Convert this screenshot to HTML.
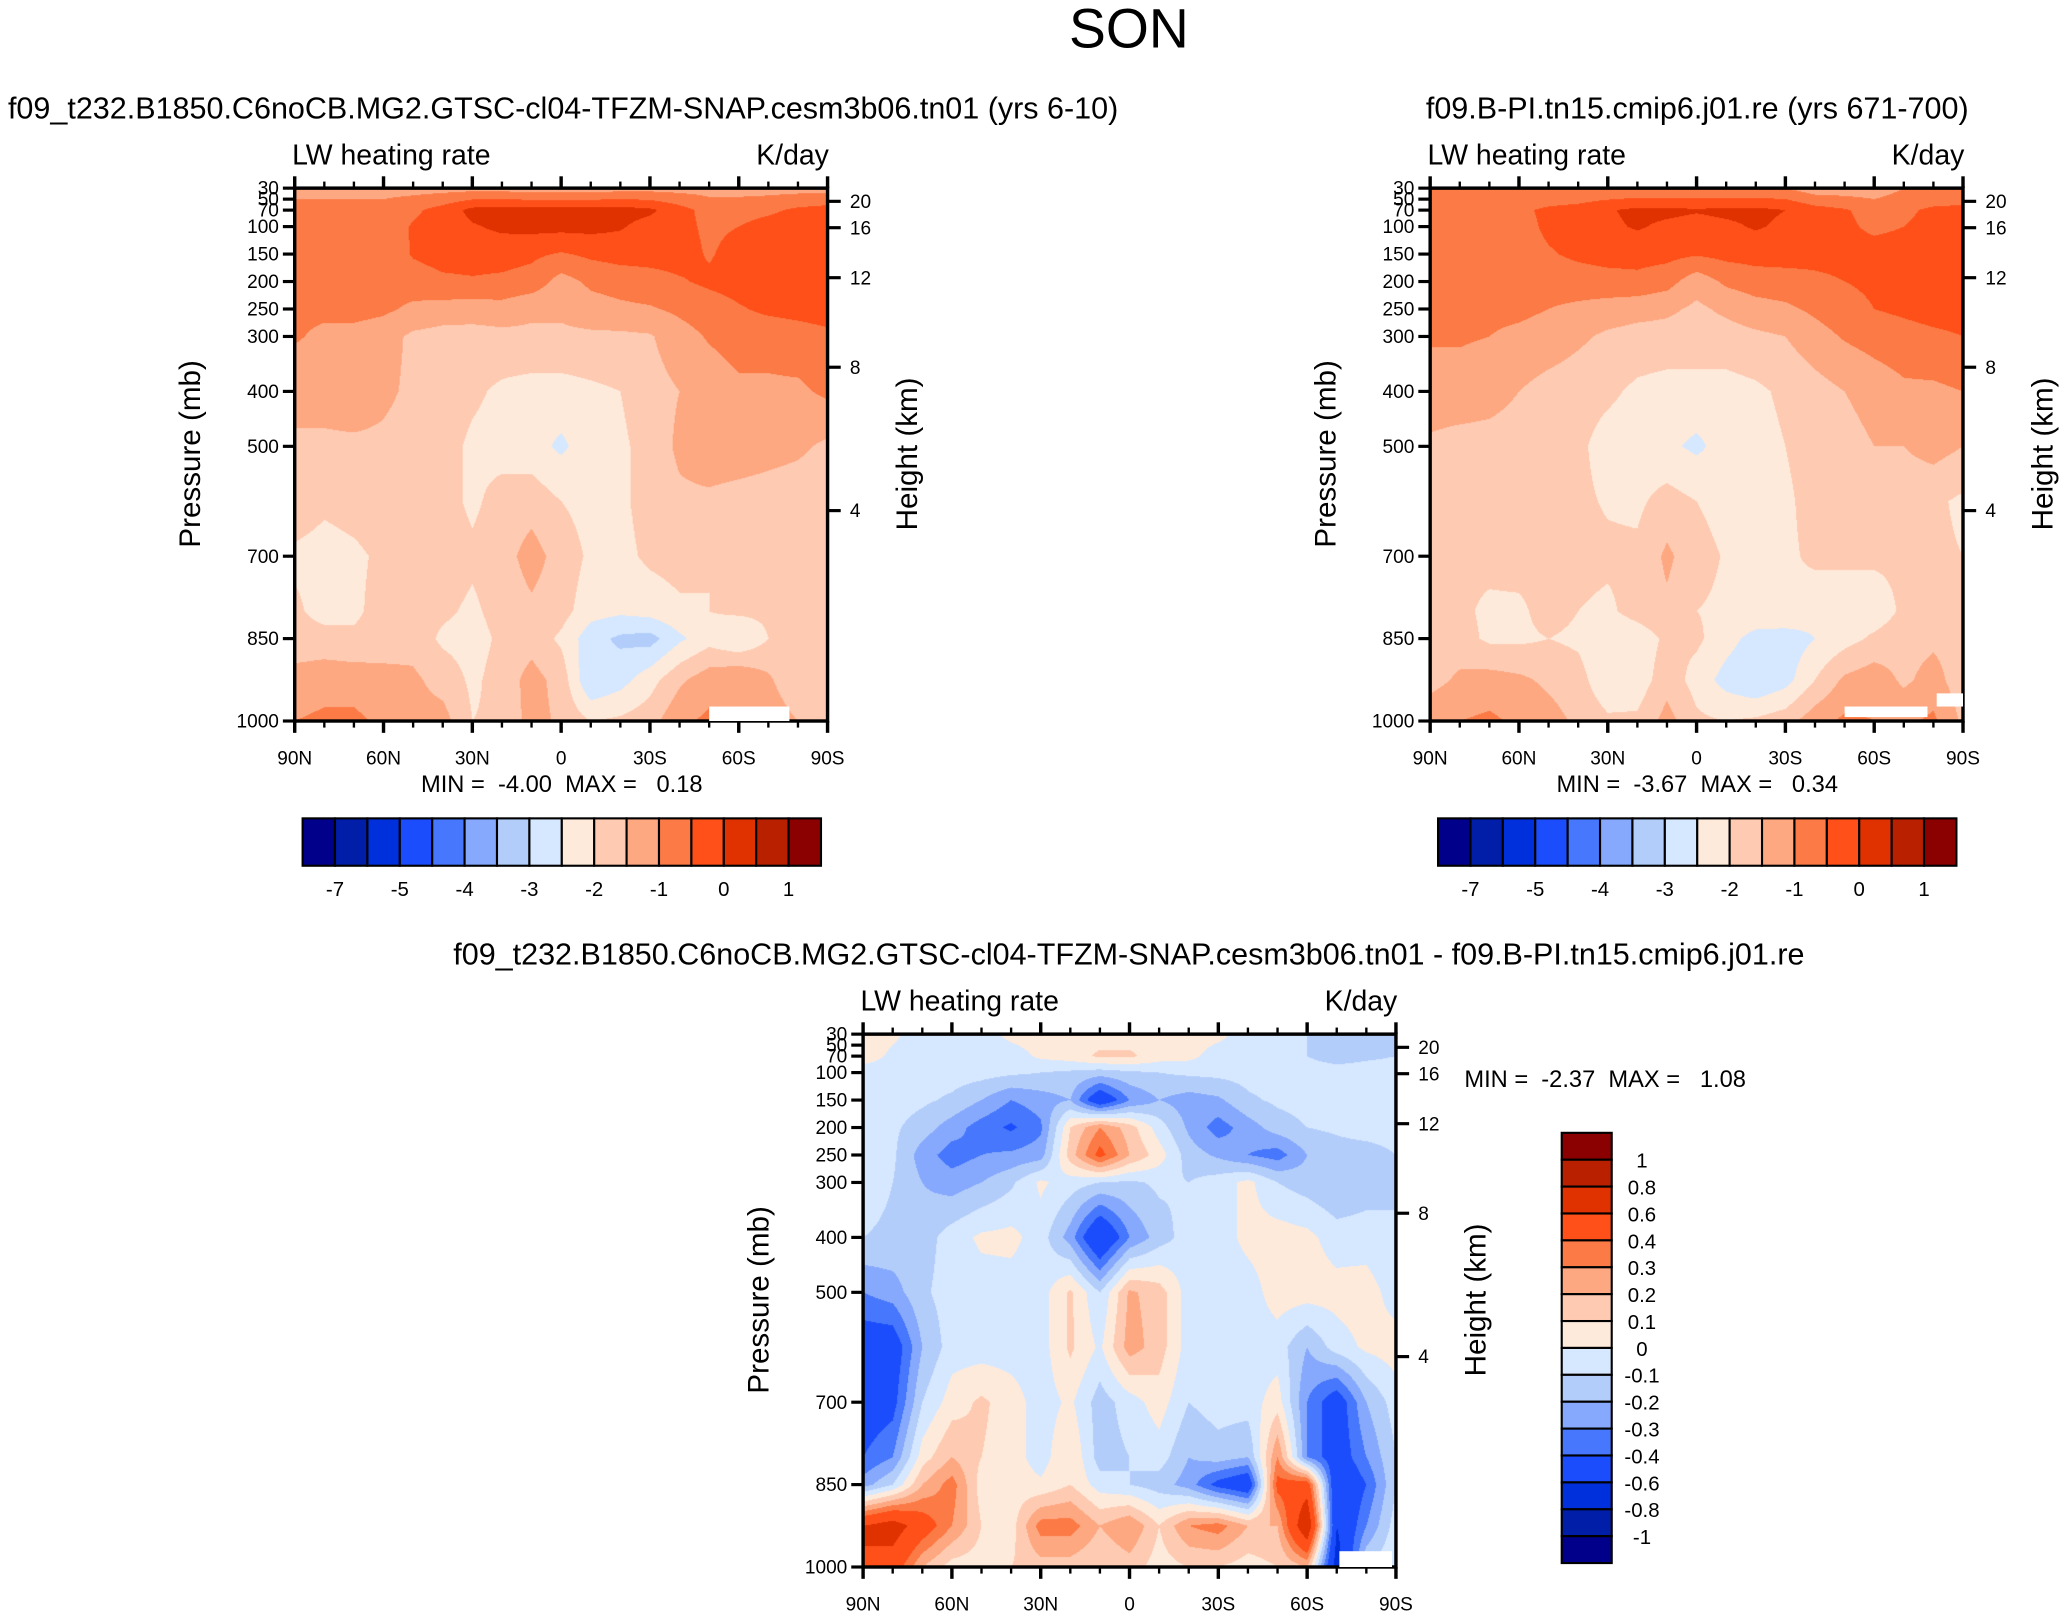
<!DOCTYPE html>
<html><head><meta charset="utf-8">
<style>
html,body{margin:0;padding:0;background:#fff;}
#wrap{position:absolute;left:0;top:0;width:1568px;height:1229px;transform:scale(1.315689,1.315703);transform-origin:0 0;overflow:hidden;}
canvas{position:absolute;}
svg{position:absolute;left:0;top:0;}
text{font-family:"Liberation Sans",Arial,sans-serif;fill:#000;white-space:pre;}
</style></head>
<body>
<div id="wrap">
<canvas id="c1" width="533" height="533" style="left:224px;top:143px;width:405px;height:405px"></canvas>
<canvas id="c2" width="533" height="533" style="left:1087px;top:143px;width:405px;height:405px"></canvas>
<canvas id="c3" width="533" height="533" style="left:656px;top:786px;width:405px;height:405px"></canvas>
<svg id="ov" width="1568" height="1229" viewBox="0 0 1568 1229"></svg>
</div>
<script>
// ---- data ----
const LATS=[90,80,70,60,50,40,30,20,10,0,-10,-20,-30,-40,-50,-60,-70,-80,-90];
const PRES=[30,70,100,150,200,250,300,400,500,600,700,800,850,925,1000];
const P_TICKS=[30,50,70,100,150,200,250,300,400,500,700,850,1000];
const LAT_TICKS=[90,60,30,0,-30,-60,-90];
const LAT_LABELS=["90N","60N","30N","0","30S","60S","90S"];
const HGT_LABELS=["20","16","12","8","4"];
const HGT_PRES=[54,102,193,356,617];
const LEV_ABS=[-7,-6,-5,-4.5,-4,-3.5,-3,-2.5,-2,-1.5,-1,-0.5,0,0.5,1];
const LEV_DIFF=[-1,-0.8,-0.6,-0.4,-0.3,-0.2,-0.1,0,0.1,0.2,0.3,0.4,0.6,0.8,1];
const CB_ABS_LABELS=["-7","-5","-4","-3","-2","-1","0","1"];
const CB_DIFF_LABELS=["1","0.8","0.6","0.4","0.3","0.2","0.1","0","-0.1","-0.2","-0.3","-0.4","-0.6","-0.8","-1"];
const COLORS=["#00008a","#001ea8","#0030dc","#1c4dfc","#4677fc","#86a9fd","#b3cdfb","#d6e8ff","#feeadb","#fecbb2","#fea882","#fc7a45","#ff5019","#e03200","#b82000","#8b0000"];
const DATA_A=[
[-1.2,-1.2,-1.2,-1.2,-1.2,-1.2,-1.2,-1.2,-1.3,-1.3,-1.3,-1.2,-1.2,-1.2,-1.2,-1.2,-1.2,-1.2,-1.2],
[-0.8,-0.8,-0.8,-0.8,-0.6,-0.3,0.15,0.2,0.2,0.2,0.2,0.2,0.1,-0.3,-0.7,-0.7,-0.6,-0.4,-0.3],
[-0.8,-0.8,-0.8,-0.8,-0.45,-0.3,-0.05,0.1,0.15,0.15,0.15,0.05,-0.2,-0.35,-0.6,-0.5,-0.3,-0.25,-0.2],
[-0.85,-0.85,-0.85,-0.85,-0.45,-0.3,-0.3,-0.3,-0.4,-0.55,-0.4,-0.3,-0.3,-0.3,-0.55,-0.3,-0.2,-0.2,-0.2],
[-0.9,-0.9,-0.9,-0.85,-0.75,-0.6,-0.55,-0.6,-0.7,-1.2,-0.9,-0.8,-0.7,-0.55,-0.4,-0.3,-0.25,-0.25,-0.25],
[-0.9,-0.9,-0.8,-0.9,-1.1,-1.2,-1.25,-1.2,-1.4,-1.4,-1.2,-1.1,-1.05,-0.9,-0.75,-0.55,-0.4,-0.35,-0.3],
[-0.95,-1.1,-1.2,-1.3,-1.6,-1.7,-1.7,-1.65,-1.6,-1.6,-1.6,-1.6,-1.55,-1.2,-0.95,-0.8,-0.8,-0.7,-0.6],
[-1.3,-1.3,-1.2,-1.4,-1.6,-1.7,-1.9,-2.1,-2.2,-2.2,-2.1,-2.0,-1.7,-1.5,-1.3,-1.1,-1.1,-1.1,-0.9],
[-1.6,-1.6,-1.6,-1.6,-1.7,-1.8,-2.1,-2.2,-2.3,-2.6,-2.2,-2.1,-1.8,-1.4,-1.2,-1.2,-1.3,-1.4,-1.6],
[-1.7,-1.9,-1.8,-1.7,-1.7,-1.8,-2.1,-1.8,-1.7,-2.0,-2.2,-2.1,-1.8,-1.6,-1.6,-1.7,-1.75,-1.8,-1.9],
[-2.1,-2.2,-2.1,-1.9,-1.8,-1.7,-1.9,-1.7,-1.3,-1.7,-2.1,-2.15,-1.9,-1.8,-2.0,-1.95,-1.8,-1.9,-2.0],
[-1.9,-2.2,-2.1,-1.8,-1.7,-1.9,-2.1,-1.8,-1.6,-1.8,-2.3,-2.4,-2.3,-2.1,-2.0,-1.9,-1.9,-1.8,-1.9],
[-1.8,-1.8,-1.9,-1.8,-1.7,-2.1,-2.2,-1.9,-1.7,-2.1,-2.8,-3.1,-3.2,-2.6,-2.2,-2.5,-2.0,-1.8,-1.8],
[-1.3,-1.2,-1.2,-1.3,-1.4,-1.7,-2.1,-1.8,-1.3,-1.7,-3.0,-2.7,-2.2,-1.6,-1.2,-1.0,-1.4,-2.0,-1.8],
[-1.0,-0.9,-0.9,-1.1,-1.3,-1.3,-2.0,-1.9,-1.3,-1.6,-2.0,-1.9,-1.7,-1.1,-0.9,-1.0,-1.1,-1.5,-1.6]];
const DATA_B=[
[-0.8,-0.9,-1.0,-1.0,-1.0,-1.0,-1.0,-1.0,-1.0,-1.0,-1.0,-1.0,-1.0,-1.3,-1.3,-1.3,-1.0,-1.0,-1.0],
[-0.8,-0.8,-0.8,-0.6,-0.4,-0.3,-0.05,0.12,0.12,0.05,0.12,0.12,0.0,-0.3,-0.45,-0.7,-0.6,-0.4,-0.35],
[-0.85,-0.85,-0.8,-0.7,-0.4,-0.3,-0.1,0.05,-0.1,-0.2,-0.1,0.05,-0.1,-0.3,-0.4,-0.6,-0.5,-0.35,-0.3],
[-0.9,-0.9,-0.85,-0.75,-0.55,-0.4,-0.3,-0.3,-0.35,-0.45,-0.35,-0.3,-0.3,-0.35,-0.35,-0.3,-0.3,-0.3,-0.3],
[-0.95,-0.95,-0.9,-0.85,-0.8,-0.75,-0.7,-0.65,-0.8,-1.3,-0.9,-0.75,-0.7,-0.6,-0.5,-0.4,-0.35,-0.3,-0.3],
[-0.95,-0.95,-0.9,-0.9,-1.0,-1.1,-1.2,-1.3,-1.4,-1.6,-1.4,-1.2,-1.1,-0.9,-0.7,-0.5,-0.4,-0.3,-0.3],
[-0.95,-0.95,-1.0,-1.1,-1.2,-1.4,-1.6,-1.7,-1.7,-1.7,-1.7,-1.6,-1.5,-1.2,-0.95,-0.8,-0.7,-0.6,-0.5],
[-1.2,-1.2,-1.3,-1.5,-1.7,-1.8,-1.9,-2.1,-2.2,-2.2,-2.2,-2.1,-1.9,-1.7,-1.5,-1.3,-1.1,-1.1,-1.0],
[-1.6,-1.7,-1.7,-1.75,-1.8,-1.9,-2.2,-2.3,-2.4,-2.6,-2.3,-2.2,-2.0,-1.75,-1.7,-1.5,-1.5,-1.3,-1.5],
[-1.9,-1.9,-1.8,-1.75,-1.8,-1.9,-2.05,-2.1,-1.8,-2.0,-2.2,-2.2,-2.1,-1.8,-1.75,-1.75,-1.8,-1.9,-2.1],
[-1.9,-1.9,-1.85,-1.8,-1.85,-1.85,-1.9,-1.9,-1.4,-1.8,-2.05,-2.05,-2.1,-1.9,-1.9,-1.9,-1.9,-1.9,-2.0],
[-1.9,-1.9,-2.1,-2.1,-1.8,-2.0,-2.1,-1.8,-1.6,-2.0,-2.1,-2.1,-2.0,-2.3,-2.3,-2.3,-1.9,-1.8,-1.8],
[-1.85,-1.8,-2.1,-2.1,-2.0,-2.1,-2.4,-2.3,-1.9,-1.9,-2.3,-2.7,-2.8,-2.5,-2.2,-1.9,-1.7,-1.6,-1.7],
[-1.7,-1.4,-1.3,-1.4,-1.6,-1.8,-2.4,-2.3,-1.7,-2.2,-2.7,-3.0,-2.7,-2.0,-1.4,-1.2,-1.6,-1.3,-1.8],
[-1.1,-1.0,-0.9,-1.1,-1.3,-1.6,-1.9,-1.9,-1.3,-1.9,-2.0,-1.9,-1.7,-1.2,-0.9,-1.0,-1.1,-0.9,-1.6]];
const DATA_D=[
[0.05,0.02,-0.05,-0.05,-0.05,0.03,0.05,0.05,0.05,0.05,0.05,0.05,0.03,-0.05,-0.05,-0.1,-0.15,-0.15,-0.15],
[0.05,-0.02,-0.05,-0.05,-0.05,-0.05,0.02,0.05,0.12,0.12,0.05,0.03,-0.05,-0.05,-0.08,-0.1,-0.15,-0.12,-0.1],
[-0.05,-0.05,-0.05,-0.05,-0.06,-0.08,-0.1,-0.12,-0.15,-0.12,-0.1,-0.08,-0.07,-0.06,-0.05,-0.05,-0.05,-0.05,-0.05],
[-0.05,-0.05,-0.08,-0.12,-0.2,-0.3,-0.25,-0.2,-0.55,-0.3,-0.2,-0.25,-0.22,-0.12,-0.08,-0.06,-0.05,-0.05,-0.05],
[-0.05,-0.08,-0.15,-0.25,-0.35,-0.42,-0.32,0.1,0.3,0.15,-0.05,-0.22,-0.35,-0.25,-0.15,-0.1,-0.08,-0.05,-0.05],
[-0.05,-0.08,-0.25,-0.35,-0.3,-0.28,-0.25,0.15,0.45,0.2,0.05,-0.15,-0.22,-0.3,-0.35,-0.2,-0.15,-0.15,-0.1],
[-0.05,-0.1,-0.2,-0.25,-0.2,-0.12,0.02,-0.05,-0.1,-0.12,-0.08,-0.1,-0.05,0.03,-0.1,-0.15,-0.2,-0.15,-0.1],
[-0.1,-0.12,-0.15,-0.05,0.02,0.03,-0.05,-0.25,-0.6,-0.3,-0.15,-0.05,-0.05,0.03,0.05,0.03,-0.05,-0.05,-0.1],
[-0.3,-0.25,-0.12,-0.05,-0.05,-0.05,-0.05,0.12,-0.1,0.22,0.15,-0.05,-0.05,-0.05,0.05,0.05,0.04,0.05,-0.05],
[-0.5,-0.5,-0.2,-0.05,-0.05,-0.05,-0.05,0.12,-0.02,0.25,0.15,-0.05,-0.05,-0.05,-0.05,-0.2,-0.05,0.02,0.05],
[-0.5,-0.45,-0.1,0.05,0.12,0.05,-0.05,0.02,-0.15,-0.05,0.05,-0.1,-0.05,-0.05,0.05,-0.3,-0.5,-0.2,-0.05],
[-0.4,-0.3,0.05,0.2,0.1,0.05,-0.05,0.1,-0.15,-0.1,-0.05,-0.2,-0.15,-0.2,0.3,-0.3,-0.5,-0.3,-0.1],
[-0.25,-0.1,0.2,0.35,0.05,0.05,0.02,0.1,-0.05,-0.1,-0.15,-0.25,-0.45,-0.55,0.45,0.5,-0.6,-0.4,-0.1],
[0.6,0.7,0.5,0.3,0.1,0.05,0.35,0.35,0.2,0.3,0.1,0.3,0.35,0.2,0.2,0.8,-0.6,-0.3,-0.05],
[0.6,0.5,0.2,0.05,0.05,0.1,0.15,0.15,0.1,0.15,0.05,0.1,0.1,0.05,0.1,0.2,-0.7,-0.1,0]];

// ---- rendering ----
const NS="http://www.w3.org/2000/svg";
const ov=document.getElementById('ov');
function mk(tag,attrs,parent){const e=document.createElementNS(NS,tag);for(const k in attrs)e.setAttribute(k,attrs[k]);(parent||ov).appendChild(e);return e;}
function txt(x,y,s,size,anchor,name,extra){const t=mk('text',Object.assign({x:x,y:y,'font-size':size,'text-anchor':anchor||'start'},extra||{}));t.textContent=s;


return t;}
const PW=405,PH=405;
function yOfP(top,p){return top+(p-30)/970*PH;}
function xOfLat(left,lat){return left+(90-lat)/180*PW;}
function binIdx(v,lev){let i=0;while(i<lev.length&&v>=lev[i])i++;return i;}
function sample(data,lat,p){
  let fi=(90-lat)/10;let i0=Math.min(17,Math.max(0,Math.floor(fi)));let tx=fi-i0;
  let j0=0;while(j0<PRES.length-2&&p>PRES[j0+1])j0++;
  let ty=(p-PRES[j0])/(PRES[j0+1]-PRES[j0]);
  const a=data[j0][i0],b=data[j0][i0+1],c=data[j0+1][i0],d=data[j0+1][i0+1];
  return (a*(1-tx)+b*tx)*(1-ty)+(c*(1-tx)+d*tx)*ty;
}
function hexRgb(h){return [parseInt(h.substr(1,2),16),parseInt(h.substr(3,2),16),parseInt(h.substr(5,2),16)];}
const RGB=COLORS.map(hexRgb);
function drawField(id,data,lev){
  const cv=document.getElementById(id),ctx=cv.getContext('2d');
  const W=cv.width,H=cv.height,img=ctx.createImageData(W,H);
  for(let y=0;y<H;y++){const p=30+(y+0.5)/H*970;
    for(let x=0;x<W;x++){const lat=90-(x+0.5)/W*180;
      const c=RGB[binIdx(sample(data,lat,p),lev)];const k=(y*W+x)*4;
      img.data[k]=c[0];img.data[k+1]=c[1];img.data[k+2]=c[2];img.data[k+3]=255;}}
  ctx.putImageData(img,0,0);
}
drawField('c1',DATA_A,LEV_ABS);
drawField('c2',DATA_B,LEV_ABS);
drawField('c3',DATA_D,LEV_DIFF);

function axes(L,T,tag){
  const g=mk('g',{});
  
  
  mk('rect',{x:L,y:T,width:PW,height:PH,fill:'none',stroke:'#000','stroke-width':2.6},g);
  P_TICKS.forEach(p=>{const y=yOfP(T,p);mk('line',{x1:L-9,y1:y,x2:L,y2:y,stroke:'#000','stroke-width':2.4},g);
    txt(L-12,y+5,String(p),14.5,'end',tag+'-pressure-tick-'+p);});
  for(let lat=90;lat>=-90;lat-=10){const x=xOfLat(L,lat);const major=(lat%30===0);const len=major?9:5;
    mk('line',{x1:x,y1:T,x2:x,y2:T-len,stroke:'#000','stroke-width':major?2.6:1.8},g);
    mk('line',{x1:x,y1:T+PH,x2:x,y2:T+PH+len,stroke:'#000','stroke-width':major?2.6:1.8},g);}
  LAT_TICKS.forEach((lat,i)=>txt(xOfLat(L,lat),T+PH+33,LAT_LABELS[i],14.5,'middle',tag+'-lat-label-'+LAT_LABELS[i]));
  HGT_PRES.forEach((p,i)=>{const y=yOfP(T,p);mk('line',{x1:L+PW,y1:y,x2:L+PW+10,y2:y,stroke:'#000','stroke-width':2.4},g);
    txt(L+PW+17,y+5,HGT_LABELS[i],14.5,'start',tag+'-height-tick-'+HGT_LABELS[i]);});
  txt(L-2,T-18,'LW heating rate',21.6,'start',tag+'-variable-label');
  txt(L+PW+1,T-18,'K/day',21.6,'end',tag+'-units-label');
  txt(0,0,'Pressure (mb)',22.5,'middle',tag+'-y-axis-title',{transform:'translate('+(L-72)+','+(T+202)+') rotate(-90)'});
  txt(0,0,'Height (km)',22.5,'middle',tag+'-right-axis-title',{transform:'translate('+(L+PW+68)+','+(T+202)+') rotate(-90)'});
}
axes(224,143,'panel1');
axes(1087,143,'panel2');
axes(656,786,'panel3');

// missing data patches
[[539,537,61,11],[1402,537,63,8],[1472,527,20,10],[1018,1179,40,12]].forEach((r,i)=>{const e=mk('rect',{x:r[0],y:r[1],width:r[2],height:r[3],fill:'#fff'});

});

// titles
txt(858,36,'SON',42,'middle','main-title');
txt(428,90,'f09_t232.B1850.C6noCB.MG2.GTSC-cl04-TFZM-SNAP.cesm3b06.tn01 (yrs 6-10)',23.2,'middle','panel1-title');
txt(1290,90,'f09.B-PI.tn15.cmip6.j01.re (yrs 671-700)',23.2,'middle','panel2-title');
txt(858,733,'f09_t232.B1850.C6noCB.MG2.GTSC-cl04-TFZM-SNAP.cesm3b06.tn01 - f09.B-PI.tn15.cmip6.j01.re',23.2,'middle','difference-title');
txt(427,602,'MIN =  -4.00  MAX =   0.18',18,'middle','panel1-min-max');
txt(1290,602,'MIN =  -3.67  MAX =   0.34',18,'middle','panel2-min-max');
txt(1113,826,'MIN =  -2.37  MAX =   1.08',18,'start','difference-min-max');

// horizontal colorbars
function hbar(L,tag){const T=622,W=394,H=36,bw=W/16;
  COLORS.forEach((c,i)=>{const r=mk('rect',{x:L+i*bw,y:T,width:bw,height:H,fill:c,stroke:'#000','stroke-width':1.6});
    
    });
  CB_ABS_LABELS.forEach((s,k)=>txt(L+(2*k+1)*bw,T+59,s,15.5,'middle',tag+'-colorbar-label'));
}
hbar(230,'panel1');hbar(1093,'panel2');
// vertical colorbar
(function(){const L=1187,T=861,W=38,H=327,bh=H/16;
  for(let j=0;j<16;j++){const r=mk('rect',{x:L,y:T+j*bh,width:W,height:bh,fill:COLORS[15-j],stroke:'#000','stroke-width':1.6});
    
    }
  CB_DIFF_LABELS.forEach((s,j)=>txt(1248,T+(j+1)*bh+6,s,15.5,'middle','difference-colorbar-label'));
})();
</script>
</body></html>
